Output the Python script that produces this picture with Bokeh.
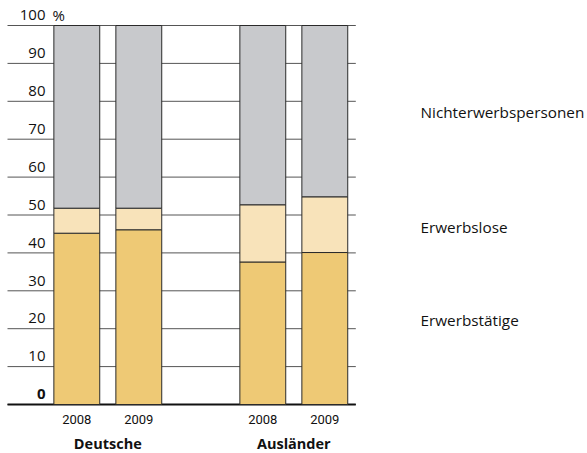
from bokeh.plotting import figure
from bokeh.models import Range1d, ColumnDataSource
from bokeh.core.properties import value
from bokeh.embed import file_html
from bokeh.resources import INLINE

# ---- data ----
groups = ["Deutsche", "Ausländer"]
years = ["2008", "2009"]
series = ["Erwerbstätige", "Erwerbslose", "Nichterwerbspersonen"]
erwerbstaetige = [45.2, 46.1, 37.6, 40.1]
erwerbslose = [6.6, 5.7, 15.1, 14.7]
nichterwerbspersonen = [48.2, 48.2, 47.3, 45.2]
y_ticks = [0, 10, 20, 30, 40, 50, 60, 70, 80, 90, 100]
colors = ["#EEC975", "#F8E3BA", "#C8C9CC"]

# ---- layout ----
W, H = 587, 453
px_x = 62.0            # px per x unit
px_y = 3.79            # px per percent
zero_px = 404          # frame y (from top) of value 0
x0 = 1 - 76.3 / px_x
x1 = x0 + W / px_x
y1 = zero_px / px_y
y0 = y1 - H / px_y

bar_x = [1, 2, 4, 5]
group_x = [1.5, 4.5]
grid_start = x0 + 7 / px_x
grid_end = 5.5

p = figure(width=W, height=H, x_range=Range1d(x0, x1), y_range=Range1d(y0, y1),
           output_backend="svg", toolbar_location=None, min_border=0)
p.axis.visible = False
p.grid.visible = False
p.outline_line_color = None
p.background_fill_color = "white"

# gridlines
p.segment(x0=[grid_start] * len(y_ticks), x1=[grid_end] * len(y_ticks), y0=y_ticks, y1=y_ticks,
          line_color="#555555", line_width=1)
p.segment(x0=[grid_start], x1=[grid_end], y0=[0], y1=[0], line_color="#111111", line_width=2)

src = ColumnDataSource(dict(x=bar_x, et=erwerbstaetige, el=erwerbslose, ne=nichterwerbspersonen))
p.vbar_stack(["et", "el", "ne"], x="x", width=0.74, source=src, color=colors,
             line_color="#2a2a2a", line_width=1)

# y tick labels (sit above the gridlines)
lab_x = 45 / px_x + x0
off = 10.3 / px_y
p.text(x=[lab_x] * (len(y_ticks) - 1), y=[t + off for t in y_ticks[1:]],
       text=[str(t) for t in y_ticks[1:]], text_align="right", text_baseline="middle",
       text_font=value("Open Sans"), text_font_size="15px", text_color="#111111")
p.text(x=[lab_x], y=[y_ticks[0] + off], text=[str(y_ticks[0])], text_align="right",
       text_baseline="middle", text_font=value("Open Sans"), text_font_size="15px",
       text_font_style="bold", text_color="#111111")
p.text(x=[52 / px_x + x0], y=[100 + off], text=["%"], text_align="left",
       text_baseline="middle", text_font=value("Open Sans"), text_font_size="15px",
       text_color="#111111")

# year labels
p.text(x=bar_x, y=[-(418.5 - 404) / px_y] * 4, text=years * 2, text_align="center",
       text_baseline="middle", text_font=value("Roboto"),
       text_font_size="13px", text_color="#111111")
# group labels
p.text(x=group_x, y=[-(443 - 404) / px_y] * 2, text=groups, text_align="center",
       text_baseline="middle", text_font=value("Open Sans"), text_font_size="14.5px",
       text_font_style="bold", text_color="#111111")

# series labels on the right
leg_x = 420 / px_x + x0
leg_y = [(404 - 319) / px_y, (404 - 226) / px_y, (404 - 111.7) / px_y]
p.text(x=[leg_x] * 3, y=leg_y, text=series, text_align="left", text_baseline="middle",
       text_font=value("Open Sans"), text_font_size="15.3px", text_color="#111111")

open("out.html", "w").write(file_html(p, INLINE))
